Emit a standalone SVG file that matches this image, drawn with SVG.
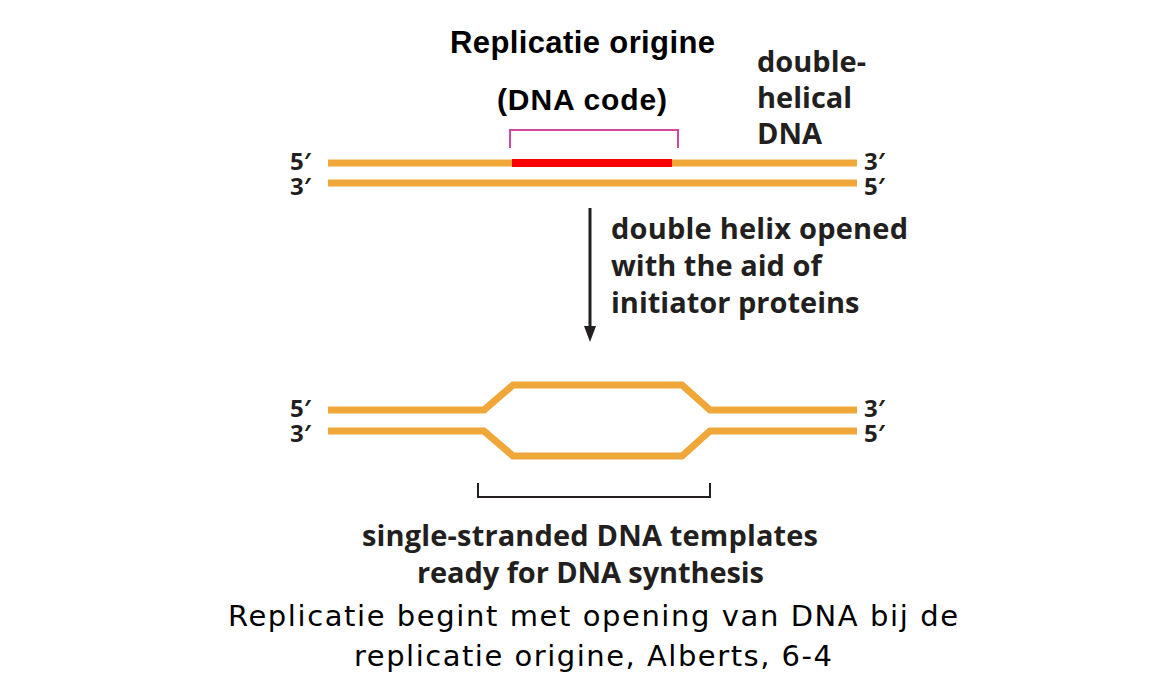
<svg xmlns="http://www.w3.org/2000/svg" width="1164" height="676" viewBox="0 0 1164 676">
<style>
.s{fill:none;stroke:#f0a73a;stroke-width:7}
.p{font-family:"Open Sans","Liberation Sans",sans-serif;font-weight:bold;font-size:29px;fill:#231f20}
.q{font-family:"Open Sans","Liberation Sans",sans-serif;font-weight:bold;font-size:24px;fill:#231f20}
.t{font-family:"Liberation Sans",Arial,sans-serif;fill:#000}
.c{font-family:"DejaVu Sans",Verdana,sans-serif;font-size:29px;fill:#000}
</style>
<rect width="1164" height="676" fill="#fff"/>
<g id="top-dna">
<line class="s" x1="328" y1="163" x2="857" y2="163"/>
<line class="s" x1="328" y1="183" x2="857" y2="183"/>
<line x1="512" y1="163" x2="672" y2="163" stroke="#ff0000" stroke-width="8"/>
<path d="M510,148 V130 H678 V148" fill="none" stroke="#d9479a" stroke-width="2"/>
<text class="q" x="290" y="170">5′</text><text class="q" x="290" y="195">3′</text>
<text class="q" x="864" y="170">3′</text><text class="q" x="864" y="195">5′</text>
</g>
<g id="labels-top">
<text class="t" x="450" y="53" font-size="31" font-weight="bold" textLength="265">Replicatie origine</text>
<text class="t" x="497" y="110" font-size="30" font-weight="bold" textLength="170">(DNA code)</text>
<text class="p" x="757" y="72">double-</text>
<text class="p" x="757" y="108">helical</text>
<text class="p" x="757" y="144">DNA</text>
</g>
<g id="connectors">
<line x1="590" y1="208" x2="590" y2="330" stroke="#231f20" stroke-width="3"/>
<path d="M584,326 L596,326 L590,342 Z" fill="#231f20"/>
</g>
<g id="arrow-label">
<text class="p" x="611" y="239" textLength="297">double helix opened</text>
<text class="p" x="611" y="276">with the aid of</text>
<text class="p" x="611" y="313">initiator proteins</text>
</g>
<g id="bottom-dna">
<path class="s" d="M328,410 H484 L513,385 H682 L710,410 H857"/>
<path class="s" d="M328,431 H484 L513,456 H682 L710,431 H857"/>
<path d="M478,483 V497 H710 V483" fill="none" stroke="#231f20" stroke-width="2"/>
<text class="q" x="290" y="417">5′</text><text class="q" x="290" y="442">3′</text>
<text class="q" x="864" y="417">3′</text><text class="q" x="864" y="442">5′</text>
</g>
<g id="bottom-label">
<text class="p" x="362" y="546" textLength="456">single-stranded DNA templates</text>
<text class="p" x="417" y="583" textLength="347">ready for DNA synthesis</text>
</g>
<g id="caption">
<text class="c" x="228" y="626" textLength="730">Replicatie begint met opening van DNA bij de</text>
<text class="c" x="354" y="666" textLength="478">replicatie origine, Alberts, 6-4</text>
</g>
</svg>
